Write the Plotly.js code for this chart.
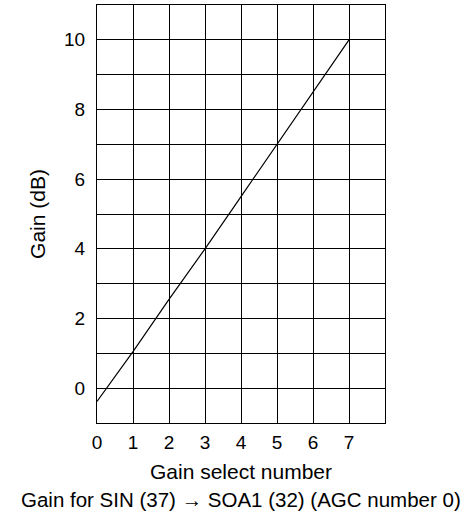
<!DOCTYPE html>
<html>
<head>
<meta charset="utf-8">
<script src="https://cdn.plot.ly/plotly-3.0.1.min.js"></script>
<style>html,body{margin:0;padding:0;background:#fff;}#chart{width:474px;height:525px;}</style>
</head>
<body>
<div id="chart"></div>
<script>
var gainSelect = [0, 1, 2, 3, 4, 5, 6, 7];
var gainDb = [-0.38, 1.05, 2.55, 4.0, 5.5, 7.0, 8.5, 10.0];
var xTickVals = [0, 1, 2, 3, 4, 5, 6, 7, 8];
var xTickText = ['0', '1', '2', '3', '4', '5', '6', '7', ''];
var yTickVals = [-1, 0, 1, 2, 3, 4, 5, 6, 7, 8, 9, 10, 11];
var yTickText = ['', '0', '', '2', '', '4', '', '6', '', '8', '', '10', ''];

var fam = 'Liberation Sans, Arial, sans-serif';

Plotly.newPlot('chart', [{
  x: gainSelect,
  y: gainDb,
  type: 'scatter',
  mode: 'lines',
  line: {color: '#000', width: 1.2},
  hoverinfo: 'skip'
}], {
  width: 474,
  height: 525,
  margin: {l: 97, r: 89, t: 5, b: 102},
  paper_bgcolor: '#fff',
  plot_bgcolor: '#fff',
  font: {family: fam, size: 19, color: '#000'},
  showlegend: false,
  xaxis: {
    range: [0, 8],
    tickmode: 'array',
    tickvals: xTickVals,
    ticktext: xTickText,
    showgrid: true,
    gridcolor: '#000',
    gridwidth: 1,
    zeroline: false,
    showline: true,
    linecolor: '#000',
    linewidth: 1,
    mirror: true,
    ticks: '',
    ticklabelstandoff: 2,
    tickfont: {family: fam, size: 19, color: '#000'},
    title: {text: 'Gain select number', font: {family: fam, size: 21, color: '#000'}, standoff: 12},
    fixedrange: true
  },
  yaxis: {
    range: [-1, 11],
    tickmode: 'array',
    tickvals: yTickVals,
    ticktext: yTickText,
    showgrid: true,
    gridcolor: '#000',
    gridwidth: 1,
    zeroline: false,
    showline: true,
    linecolor: '#000',
    linewidth: 1,
    mirror: true,
    ticks: '',
    ticklabelstandoff: 7,
    tickfont: {family: fam, size: 19, color: '#000'},
    title: {text: 'Gain (dB)', font: {family: fam, size: 21, color: '#000'}, standoff: 12},
    fixedrange: true
  },
  annotations: [{
    xref: 'paper', yref: 'paper',
    x: 0.5, y: 0,
    yshift: -63,
    xanchor: 'center', yanchor: 'top',
    showarrow: false,
    text: 'Gain for SIN (37) \u2192 SOA1 (32) (AGC number 0)',
    font: {family: fam, size: 20.5, color: '#000'}
  }]
}, {staticPlot: true});
</script>
</body>
</html>
